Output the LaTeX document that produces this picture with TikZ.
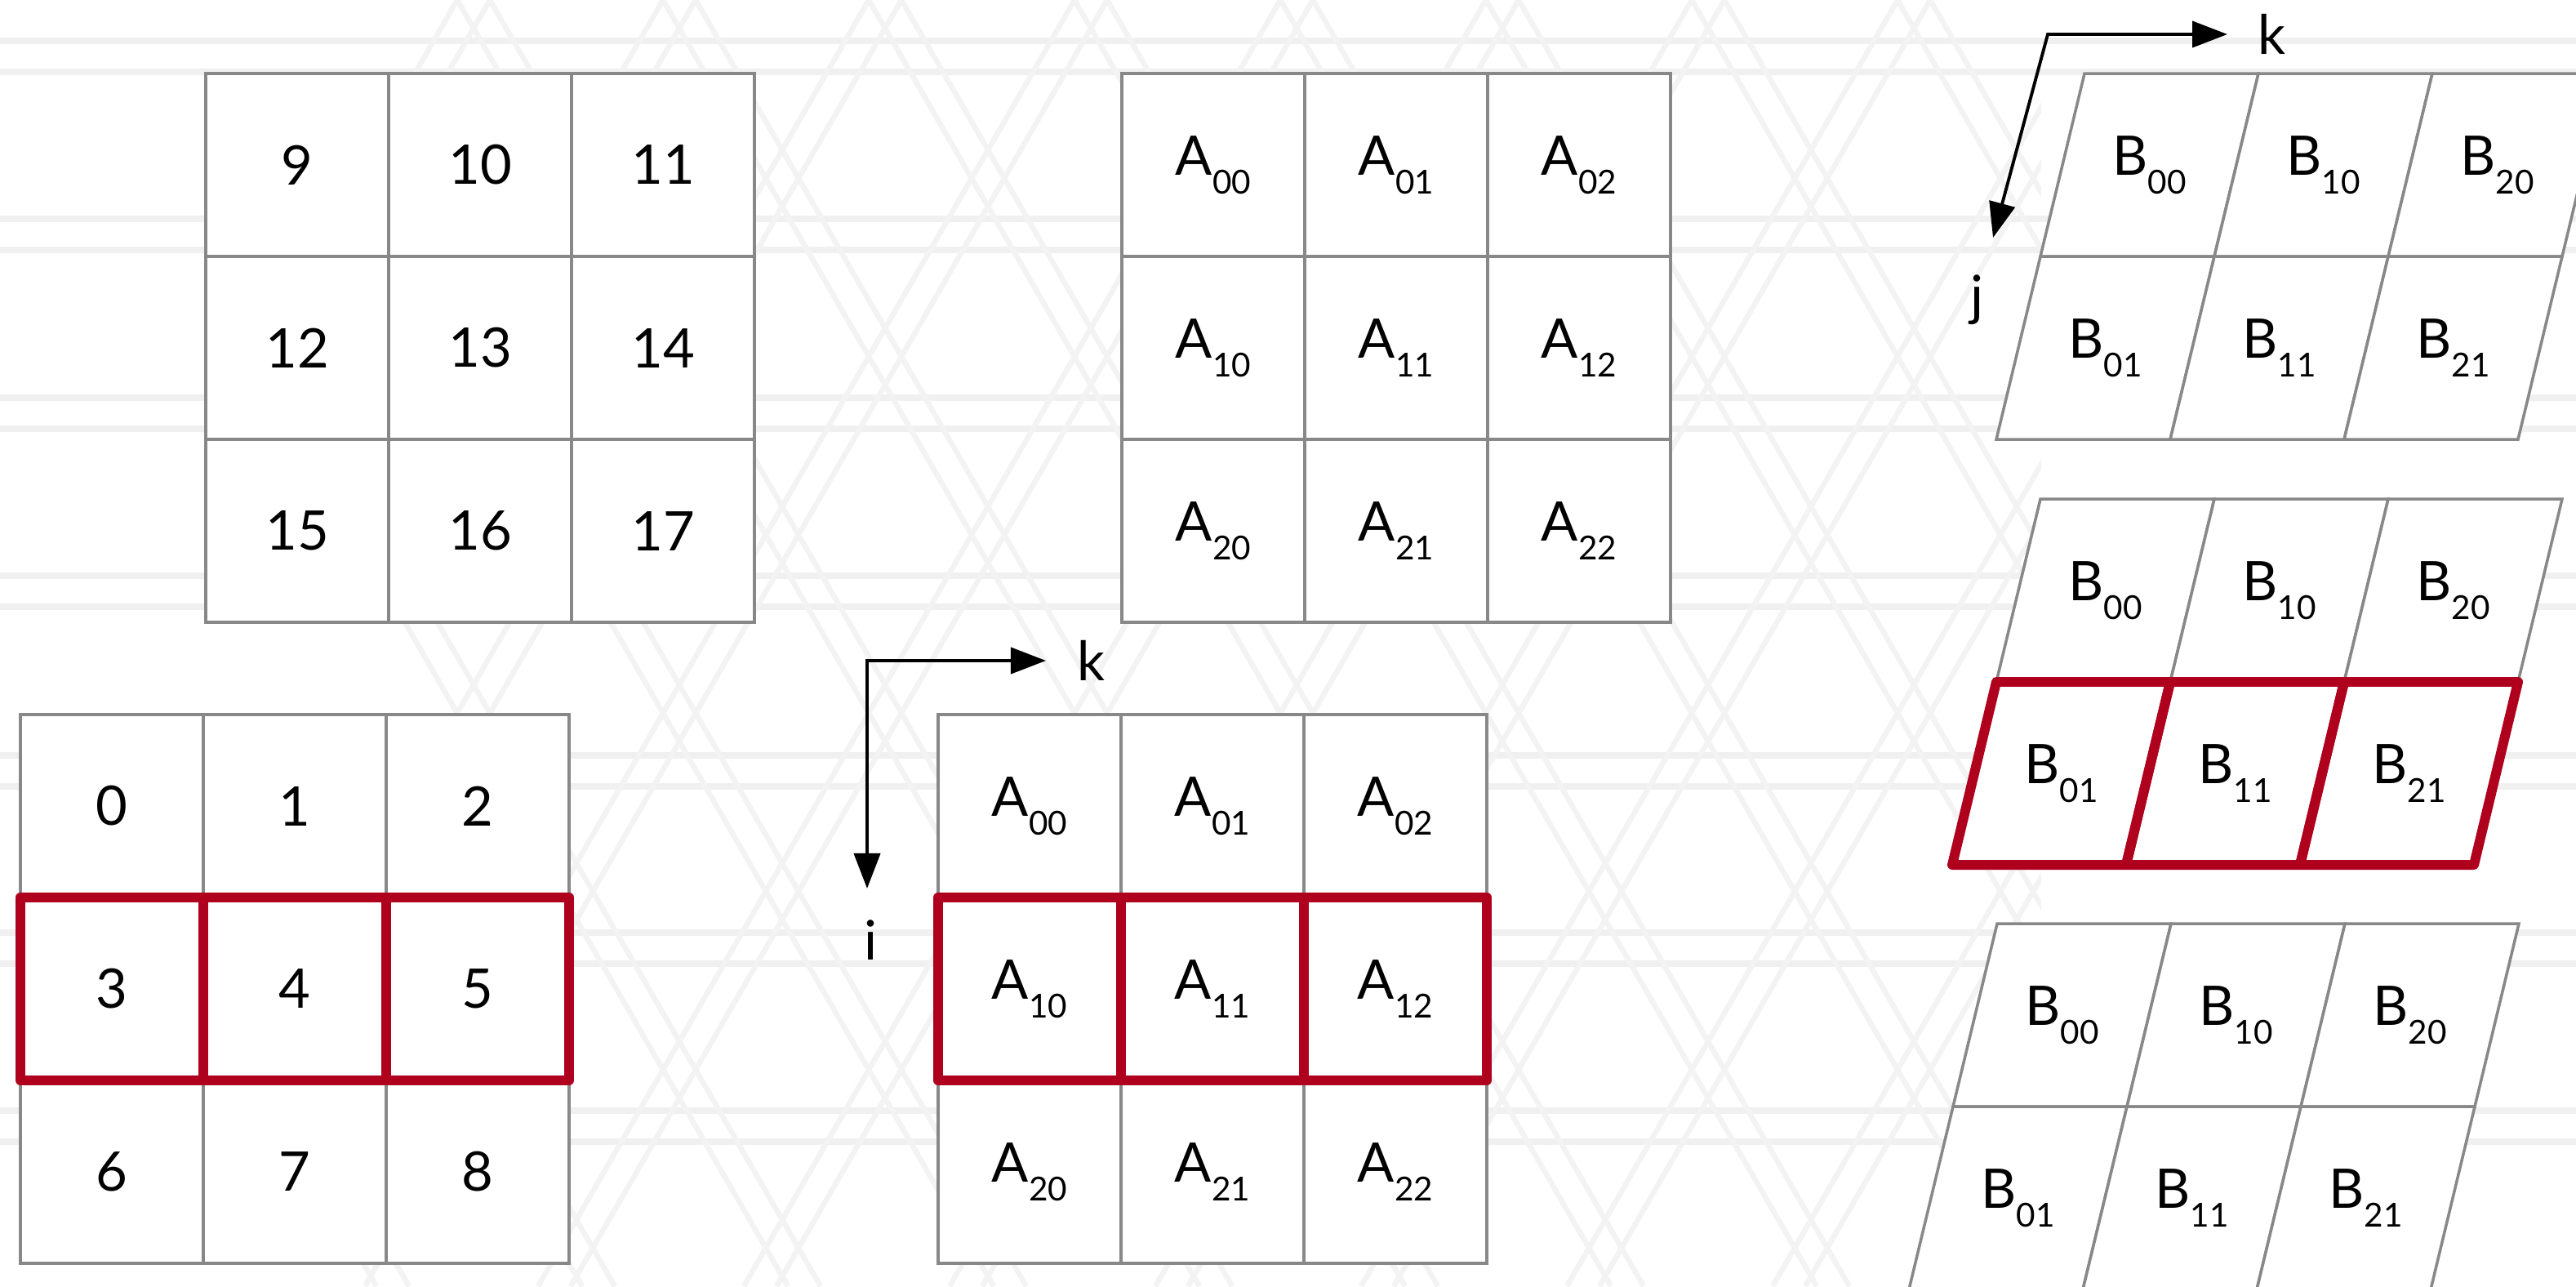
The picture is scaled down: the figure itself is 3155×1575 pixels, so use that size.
\documentclass[tikz,border=0pt]{standalone}
\usepackage{fontspec}
\setmainfont{Lato}
\usetikzlibrary{arrows.meta}
\definecolor{gridgray}{HTML}{888888}
\definecolor{hired}{HTML}{AF001E}
\definecolor{bgline}{HTML}{F0F0F0}
\definecolor{bglat}{HTML}{F3F3F3}
\newcommand{\sbx}[1]{\raisebox{-6.5pt}{\fontsize{11.5pt}{11.5pt}\selectfont #1}}
\tikzset{
  cellbox/.style={draw=gridgray, line width=1pt, fill=white},
  hilite/.style={draw=hired, line width=3.4pt, line join=round},
  lbl/.style={inner sep=0pt, font=\fontsize{19pt}{19pt}\selectfont},
  axis/.style={draw=black, line width=1.1pt,
    {Triangle[length=0.43cm,width=0.32cm]}-{Triangle[length=0.43cm,width=0.32cm]}},
  bgband/.style={draw=bgline, line width=0.08cm},
  bglattice/.style={draw=bglat, line width=0.065cm},
}
\begin{document}
\begin{tikzpicture}[x=0.01cm,y=-0.01cm]
\useasboundingbox (0,0) rectangle (3155,1575);
\clip (0,0) rectangle (3155,1575);
\fill[white] (0,0) rectangle (3155,1575);

% faint background pattern
\foreach \y in {50,268,487,705,925,1142,1360} {
  \draw[bgband] (0,\y) -- (3155,\y);
  \draw[bgband] (0,\y+38) -- (3155,\y+38);
}
\begin{scope}
  \clip (430,0) rectangle (2500,1575);
  \foreach \c in {-700,-448,...,3300} {
    \draw[bglattice] (\c,0) -- ++(909,1575);
    \draw[bglattice] (\c+40,0) -- ++(909,1575);
    \draw[bglattice] (\c,0) -- ++(-909,1575);
    \draw[bglattice] (\c+40,0) -- ++(-909,1575);
  }
\end{scope}

% number grid 9..17
\foreach \r in {0,1,2} {
  \foreach \c in {0,1,2} {
    \pgfmathtruncatemacro{\n}{9+3*\r+\c}
    \draw[cellbox] (252+224*\c,90+224*\r) rectangle ++(224,224);
    \node[lbl] (nt\r\c) at (252+224*\c+112,90+224*\r+112) {\n};
  }
}

% number grid 0..8
\foreach \r in {0,1,2} {
  \foreach \c in {0,1,2} {
    \pgfmathtruncatemacro{\n}{3*\r+\c}
    \draw[cellbox] (25+224*\c,875+224*\r) rectangle ++(224,224);
    \node[lbl] (nb\r\c) at (25+224*\c+112,875+224*\r+112) {\n};
  }
}
\foreach \c in {0,1,2} {
  \draw[hilite] (25+224*\c,875+224) rectangle ++(224,224);
}

% A grid top
\foreach \r in {0,1,2} {
  \foreach \c in {0,1,2} {
    \draw[cellbox] (1374+224*\c,90+224*\r) rectangle ++(224,224);
    \node[lbl] (at\r\c) at (1374+224*\c+112,90+224*\r+112) {A\sbx{\r\c}};
  }
}

% A grid bottom
\foreach \r in {0,1,2} {
  \foreach \c in {0,1,2} {
    \draw[cellbox] (1149+224*\c,875+224*\r) rectangle ++(224,224);
    \node[lbl] (ab\r\c) at (1149+224*\c+112,875+224*\r+112) {A\sbx{\r\c}};
  }
}
\foreach \c in {0,1,2} {
  \draw[hilite] (1149+224*\c,875+224) rectangle ++(224,224);
}

% B grids (sheared)
\foreach \X/\Y/\nm in {2553/90/bt,2499/611/bm,2446/1131/bb} {
  \foreach \r in {0,1} {
    \foreach \c in {0,1,2} {
      \draw[cellbox] (\X+213*\c-54*\r,\Y+224*\r) -- ++(213,0) -- ++(-54,224) -- ++(-213,0) -- cycle;
      \node[lbl] (\nm\c\r) at (\X+213*\c+106.5-54*\r-27,\Y+224*\r+112) {B\sbx{\c\r}};
    }
  }
}
\foreach \c in {0,1,2} {
  \draw[hilite] (2499+213*\c-54,611+224) -- ++(213,0) -- ++(-54,224) -- ++(-213,0) -- cycle;
}

% axes for A
\coordinate (ao) at (1062,809);
\coordinate (ak) at (1281,809);
\coordinate (ai) at (1062,1088);
\draw[axis] (ai) -- (ao) -- (ak);
\node[lbl, anchor=base] (lk) at (1336,833) {k};
\node[lbl, anchor=base] (li) at (1067,1175) {i};

% axes for B
\coordinate (bo) at (2508,42);
\coordinate (bk) at (2728,42);
\coordinate (bj) at (2441,291);
\draw[axis] (bj) -- (bo) -- (bk);
\node[lbl, anchor=base] (bkl) at (2782,66) {k};
\node[lbl, anchor=base] (bjl) at (2421,385) {j};
\end{tikzpicture}
\end{document}
